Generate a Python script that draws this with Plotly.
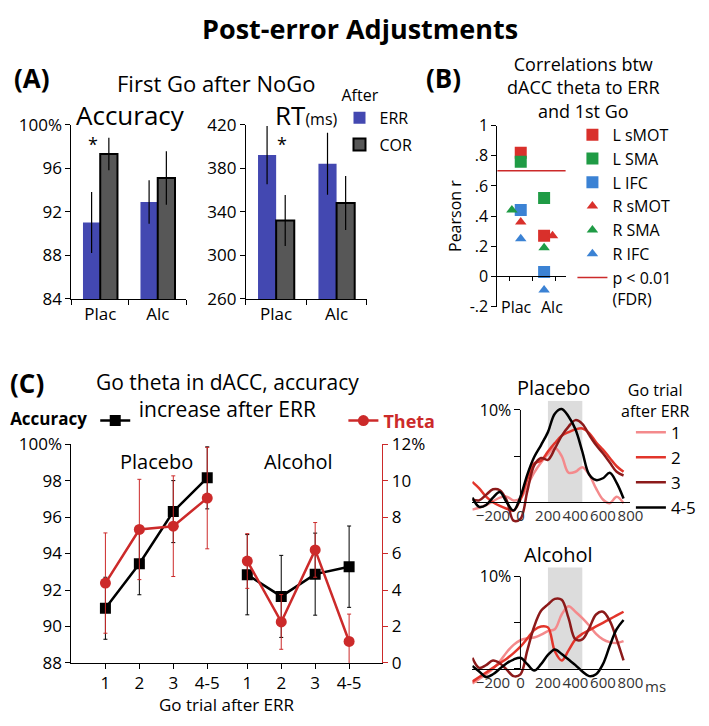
import plotly.graph_objects as go

W, H = 709, 726
PAGE = 8  # the page margin pushes the figure 8px right and down


def fx(p):
    # screen pixel column -> paper x
    return (p - PAGE) / W


def fy(p):
    # screen pixel row -> paper y
    return 1 - (p - PAGE) / H


# Panel A data ===============================================================
groups = ["Plac", "Alc"]
acc_err = [91.0, 92.9]
acc_err_se = [2.8, 2.0]
acc_cor = [97.3, 95.1]
acc_cor_se = [1.5, 2.45]
rt_err = [392, 384]
rt_err_se = [26.7, 28.4]
rt_cor = [332, 348]
rt_cor_se = [23.4, 24.7]

# Panel B data ===============================================================
regions = ["L sMOT", "L SMA", "L IFC", "R sMOT", "R SMA", "R IFC"]
r_plac = [0.82, 0.76, 0.44, 0.36, 0.44, 0.25]
r_alc = [0.27, 0.52, 0.03, 0.27, 0.19, -0.09]
fdr_r = 0.70

# Panel C data ===============================================================
trials = ["1", "2", "3", "4-5"]
acc_plac = [91.0, 93.44, 96.3, 98.15]
acc_plac_se = [1.7, 1.7, 1.7, 1.7]
acc_alc = [92.84, 91.65, 92.87, 93.28]
acc_alc_se = [2.2, 2.25, 2.25, 2.23]
theta_plac = [4.38, 7.32, 7.5, 9.04]
theta_plac_se = [2.75, 2.75, 2.76, 2.78]
theta_alc = [5.59, 2.25, 6.2, 1.18]
theta_alc_se = [1.5, 1.5, 1.5, 1.5]

# theta time courses (ms, % change)
times = [-350, -300, -250, -200, -150, -100, -50, 0, 50, 100, 150, 200,
         250, 300, 350, 400, 450, 500, 550, 600, 650, 700, 750]
plac_1 = [-0.8, -0.6, -0.3, 0.1, 0.5, 0.6, 0.2, 0.4, 1.8, 3.2, 4.3, 5.2,
          5.9, 5.0, 3.2, 3.3, 3.8, 3.0, 1.5, 0.3, -0.1, 0.6, -0.1]
plac_2 = [2.2, 1.5, 0.6, 0.0, -0.4, -0.7, -0.9, 0.3, 2.5, 4.2, 4.5, 5.5,
          6.4, 7.2, 7.6, 7.9, 8.0, 7.5, 6.5, 5.7, 4.8, 3.9, 3.3]
plac_3 = [0.3, 0.2, 0.8, 1.4, 1.3, 0.2, -2.0, -1.8, 1.2, 4.0, 4.8, 4.6,
          5.8, 7.2, 8.2, 8.9, 8.5, 7.3, 6.2, 5.3, 4.3, 3.3, 2.9]
plac_45 = [0.5, -0.5, -0.3, 0.5, 1.1, 0.0, -0.9, 0.6, 3.0, 4.9, 6.2, 7.6,
           9.6, 10.1, 9.3, 7.9, 5.5, 3.0, 2.4, 2.6, 3.2, 2.1, 0.4]
alc_1 = [-1.6, -1.1, -0.6, 0.0, 0.8, 1.8, 2.6, 3.1, 3.3, 3.4, 3.7, 4.1,
         4.3, 5.9, 6.8, 6.2, 5.5, 4.7, 3.8, 3.2, 2.9, 2.8, 3.0]
alc_2 = [-1.4, -0.9, -0.4, 0.1, 0.6, 1.1, 1.7, 2.4, 3.3, 4.2, 4.6, 4.5,
         1.9, 0.9, 2.0, 3.2, 3.8, 4.2, 4.6, 5.0, 5.4, 5.8, 6.2]
alc_3 = [1.2, 0.1, 0.4, 0.9, 0.6, -0.1, -0.8, -0.6, 2.0, 4.6, 6.3, 7.0,
         7.6, 7.5, 5.5, 3.2, 3.2, 4.4, 5.9, 6.2, 5.2, 3.2, 0.9]
alc_45 = [0.3, -0.3, -0.9, -0.6, 0.0, 0.6, 1.0, 1.2, 0.5, -0.2, 0.5, 1.5,
          2.1, 1.6, 1.0, 0.4, -0.3, -0.8, -0.6, 0.5, 2.5, 4.3, 5.3]
window = (200, 450)

# styles ======================================================================
FONT = "Open Sans"
BLUE = "#4348b1"
GREY = "#575757"
RED = "#cc2a2a"
reg_colors = ["#d9302b", "#1f9b45", "#3b82d4", "#d9302b", "#1f9b45", "#3b82d4"]
reg_symbols = ["square", "square", "square",
               "triangle-up", "triangle-up", "triangle-up"]
jit_plac = [0, 0, 0, 0, -0.38, 0]
jit_alc = [0, 0, 0, 0.36, 0, 0]
trial_colors = ["#f48a8c", "#e2352b", "#8c1a1a", "black"]
trial_pos = [1, 2, 3, 4]
alc_shift = 4.18

fig = go.Figure()

# Panel A: bars ==============================================
bar_sets = [
    ("x", "y", acc_err, acc_err_se, acc_cor, acc_cor_se, True),
    ("x2", "y2", rt_err, rt_err_se, rt_cor, rt_cor_se, False),
]
for xa, ya, e, e_se, c, c_se, show in bar_sets:
    fig.add_trace(go.Bar(x=[0, 1], y=e, name="ERR", legend="legend",
                         legendgroup="err", showlegend=show,
                         marker=dict(color=BLUE, line=dict(width=0)),
                         error_y=dict(type="data", array=e_se, color="black",
                                      thickness=1.2, width=0),
                         xaxis=xa, yaxis=ya))
    fig.add_trace(go.Bar(x=[0, 1], y=c, name="COR", legend="legend",
                         legendgroup="cor", showlegend=show,
                         marker=dict(color=GREY,
                                     line=dict(color="black", width=2)),
                         error_y=dict(type="data", array=c_se, color="black",
                                      thickness=1.2, width=0),
                         xaxis=xa, yaxis=ya))

# Panel B: correlations ======================================
for i, reg in enumerate(regions):
    size = 12 if reg_symbols[i] == "square" else 10
    fig.add_trace(go.Scatter(x=[0 + jit_plac[i], 1 + jit_alc[i]],
                             y=[r_plac[i], r_alc[i]], mode="markers",
                             name=reg, legend="legend2",
                             marker=dict(symbol=reg_symbols[i], size=size,
                                         color=reg_colors[i]),
                             xaxis="x3", yaxis="y3"))
fig.add_trace(go.Scatter(x=[None], y=[None], mode="lines",
                         name="p < 0.01<br>(FDR)", legend="legend2",
                         line=dict(color=RED, width=1.5),
                         xaxis="x3", yaxis="y3"))
fig.add_shape(type="line", xref="x3 domain", yref="y3", x0=0, x1=1,
              y0=fdr_r, y1=fdr_r, line=dict(color=RED, width=1.5))

# Panel C: accuracy and theta by trial =======================
x_alc = [p + alc_shift for p in trial_pos]
for xs, ys, se, show in [(trial_pos, acc_plac, acc_plac_se, True),
                         (x_alc, acc_alc, acc_alc_se, False)]:
    fig.add_trace(go.Scatter(x=xs, y=ys, mode="lines+markers", name="",
                             legend="legend4", showlegend=show,
                             line=dict(color="black", width=2.5),
                             marker=dict(symbol="square", size=11,
                                         color="black"),
                             error_y=dict(type="data", array=se,
                                          color="black", thickness=1,
                                          width=2),
                             xaxis="x4", yaxis="y4"))
for xs, ys, se, show in [(trial_pos, theta_plac, theta_plac_se, True),
                         (x_alc, theta_alc, theta_alc_se, False)]:
    fig.add_trace(go.Scatter(x=xs, y=ys, mode="lines+markers",
                             name="<b>Theta</b>",
                             legend="legend5", showlegend=show,
                             line=dict(color=RED, width=2.5),
                             marker=dict(symbol="circle", size=11, color=RED),
                             error_y=dict(type="data", array=se,
                                          color=RED, thickness=1, width=2),
                             xaxis="x4", yaxis="y5"))

# Panel C: time courses ======================================
courses = [
    ("x6", "y6", [plac_1, plac_2, plac_3, plac_45], True),
    ("x7", "y7", [alc_1, alc_2, alc_3, alc_45], False),
]
for xa, ya, series, show in courses:
    for k, ys in enumerate(series):
        fig.add_trace(go.Scatter(x=times, y=ys, mode="lines",
                                 line=dict(color=trial_colors[k], width=2.5,
                                           shape="spline", smoothing=1.0),
                                 name=trials[k], legend="legend3",
                                 showlegend=show, xaxis=xa, yaxis=ya))
    fig.add_shape(type="rect", xref=xa, yref=ya, x0=window[0], x1=window[1],
                  y0=0, y1=11, fillcolor="#dcdcdc", line=dict(width=0),
                  layer="below")
    fig.add_shape(type="line", xref=xa, yref=ya, x0=0, x1=0, y0=0, y1=10,
                  line=dict(color="black", width=1))

# axes =======================================================================
base = dict(showgrid=False, zeroline=False, showline=True, linecolor="black",
            linewidth=1, tickcolor="black", tickfont=dict(size=17))

ms_ticks = [-200, 0, 200, 400, 600, 800]
ms_text = ["\u2212200", "0", "200", "400", "600", "800"]

fig.update_layout(
    xaxis=dict(base, domain=[fx(68), fx(186)], range=[-0.5, 1.5],
               tickvals=[0, 1], ticktext=groups, ticks="", anchor="y",
               minor=dict(tickvals=[-0.5, 0.5, 1.5], ticks="outside",
                          ticklen=5, tickcolor="black")),
    yaxis=dict(base, domain=[fy(296), fy(116)], range=[84, 100],
               tickvals=[84, 88, 92, 96, 100],
               ticktext=["84", "88", "92", "96", "100%"],
               ticks="outside", ticklen=5, anchor="x"),
    xaxis2=dict(base, domain=[fx(247), fx(371)], range=[-0.5, 1.5],
                tickvals=[0, 1], ticktext=groups, ticks="", anchor="y2",
                minor=dict(tickvals=[-0.5, 0.5, 1.5], ticks="outside",
                           ticklen=5, tickcolor="black")),
    yaxis2=dict(base, domain=[fy(296), fy(116)], range=[260, 420],
                tickvals=[260, 300, 340, 380, 420],
                ticks="outside", ticklen=5, anchor="x2"),
    xaxis3=dict(base, domain=[fx(505), fx(575)], range=[-1, 1.92],
                anchor="free", position=fy(272.8),
                tickvals=[-0.5, 0.5, 1.5], showticklabels=False,
                ticks="outside", ticklen=4),
    yaxis3=dict(base, domain=[fy(304), fy(117)], range=[-0.2, 1.0],
                tickvals=[-0.2, 0, 0.2, 0.4, 0.6, 0.8, 1.0],
                ticktext=["-.2", "0", ".2", ".4", ".6", ".8", "1"],
                ticks="outside", ticklen=5, anchor="x3",
                tickfont=dict(size=16),
                title=dict(text="Pearson r", font=dict(size=16), standoff=4)),
    xaxis4=dict(base, domain=[fx(68), fx(387)], range=[0, 9.16],
                tickvals=trial_pos + x_alc, ticktext=trials + trials,
                ticks="outside", ticklen=5, anchor="y4"),
    yaxis4=dict(base, domain=[fy(672), fy(446)], range=[88, 100],
                tickvals=[88, 90, 92, 94, 96, 98, 100],
                ticktext=["88", "90", "92", "94", "96", "98", "100%"],
                ticks="outside", ticklen=5, anchor="x4"),
    yaxis5=dict(base, range=[0, 12], overlaying="y4", side="right",
                anchor="x4", linecolor=RED, tickcolor=RED,
                tickvals=[0, 2, 4, 6, 8, 10, 12],
                ticktext=["0", "2", "4", "6", "8", "10", "12%"],
                ticks="outside", ticklen=5),
    xaxis6=dict(base, domain=[fx(479.3), fx(641.5)], range=[-350, 800],
                anchor="free", position=fy(506), tickvals=ms_ticks,
                ticktext=ms_text, ticks="", tickangle=0,
                tickfont=dict(size=15, color="#333")),
    yaxis6=dict(base, domain=[fy(534.6), fy(401.2)], range=[-3, 11],
                anchor="free", position=fx(528.7), showline=False,
                tickvals=[0, 5, 10], ticktext=["", "", "10%"],
                ticks="outside", ticklen=6, tickfont=dict(size=16)),
    xaxis7=dict(base, domain=[fx(479.3), fx(641.5)], range=[-350, 800],
                anchor="free", position=fy(678), tickvals=ms_ticks,
                ticktext=ms_text, ticks="", tickangle=0,
                tickfont=dict(size=15, color="#333")),
    yaxis7=dict(base, domain=[fy(706.5), fy(571.6)], range=[-3, 11.2],
                anchor="free", position=fx(528.7), showline=False,
                tickvals=[0, 5, 10], ticktext=["", "", "10%"],
                ticks="outside", ticklen=6, tickfont=dict(size=16)),
)

# legends ====================================================================
clear = "rgba(0,0,0,0)"
fig.update_layout(
    legend=dict(title=dict(text="After", font=dict(size=16)),
                x=fx(343), y=fy(70), xanchor="left", yanchor="top",
                font=dict(size=16), bgcolor=clear, traceorder="grouped",
                tracegroupgap=3, itemwidth=30),
    legend2=dict(x=fx(582), y=fy(109), xanchor="left", yanchor="top",
                 font=dict(size=16), bgcolor=clear, valign="top",
                 itemwidth=30),
    legend3=dict(x=fx(642), y=fy(415.5), xanchor="left", yanchor="top",
                 font=dict(size=17), bgcolor=clear, itemwidth=30),
    legend4=dict(title=dict(text="<b>Accuracy</b>", font=dict(size=17),
                            side="left"),
                 x=fx(3), y=fy(422), xanchor="left", yanchor="middle",
                 font=dict(size=17), bgcolor=clear, itemwidth=30),
    legend5=dict(x=fx(347), y=fy(422), xanchor="left", yanchor="middle",
                 font=dict(size=18, color=RED), bgcolor=clear, itemwidth=30),
)

# text =======================================================================
notes = [
    ("<b>Post-error Adjustments</b>", 364, 17, 27),
    ("<b>(A)</b>", 28, 68, 26),
    ("First Go after NoGo", 216, 73, 22),
    ("Accuracy", 129, 106, 26),
    ("RT<span style='font-size:16px'>(ms)</span>", 309, 106, 26),
    ("<b>(B)</b>", 450, 68, 26),
    ("Correlations btw<br>dACC theta to ERR<br>and 1st Go", 593, 78, 18),
    ("<b>(C)</b>", 22, 383, 26),
    ("Go theta in dACC, accuracy<br>increase after ERR", 228, 396, 21),
    ("Placebo", 155, 464, 20),
    ("Alcohol", 301, 464, 20),
    ("Go trial after ERR", 228, 715, 17),
    ("Placebo", 563, 388, 20),
    ("Alcohol", 568, 560, 20),
    ("Go trial<br>after ERR", 667, 401, 16),
]
for text, px, py, size in notes:
    fig.add_annotation(text=text, x=fx(px), y=fy(py), xref="paper",
                       yref="paper", showarrow=False, xanchor="center",
                       yanchor="middle", font=dict(size=size))
fig.add_annotation(text="ms", x=fx(654), y=fy(696), xref="paper",
                   yref="paper", showarrow=False, xanchor="left",
                   yanchor="middle", font=dict(size=15, color="#333"))

# B category labels along the bottom
b_label_x = [0.55, 0.8]
b_label_anchor = ["right", "left"]
for i, g in enumerate(groups):
    fig.add_annotation(text=g, x=b_label_x[i], y=-0.2, xref="x3", yref="y3",
                       showarrow=False, xanchor=b_label_anchor[i],
                       yanchor="middle", font=dict(size=16))

# significance stars
fig.add_annotation(text="*", x=-0.13, y=98.2, xref="x", yref="y",
                   showarrow=False, yanchor="middle", font=dict(size=18))
fig.add_annotation(text="*", x=0.1, y=402, xref="x2", yref="y2",
                   showarrow=False, yanchor="middle", font=dict(size=18))

fig.update_layout(width=W, height=H, margin=dict(l=0, r=0, t=0, b=0),
                  paper_bgcolor="white", plot_bgcolor="white",
                  barmode="group", bargap=0.4, bargroupgap=0,
                  font=dict(family=FONT, color="black", size=16))

fig.write_html("out.html")
